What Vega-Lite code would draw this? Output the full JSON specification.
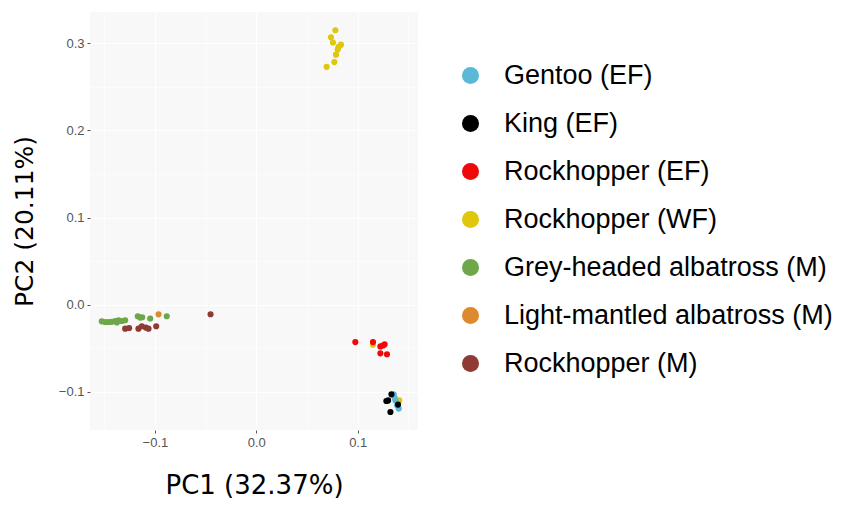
{
  "$schema": "https://vega.github.io/schema/vega-lite/v6.json",
  "width": 328,
  "height": 418,
  "autosize": {"type": "none"},
  "padding": {"left": 90, "top": 12, "right": 432, "bottom": 75},
  "background": "white",
  "config": {
    "view": {"fill": "#f8f8f8", "stroke": null},
    "axis": {
      "domain": false,
      "gridColor": "white",
      "gridWidth": 1,
      "tickColor": "#555555",
      "tickSize": 3,
      "labelColor": "#555555",
      "labelFont": "Liberation Sans",
      "labelFontSize": 13,
      "titleFont": "DejaVu Sans",
      "titleFontWeight": "normal",
      "titleColor": "black",
      "titleFontSize": 25
    },
    "legend": {
      "labelFont": "Liberation Sans",
      "labelFontSize": 27,
      "labelColor": "black",
      "labelLimit": 400
    }
  },
  "data": {
    "values": [
      {"pc1": 0.078, "pc2": 0.315, "group": "Rockhopper (WF)"},
      {"pc1": 0.0737, "pc2": 0.307, "group": "Rockhopper (WF)"},
      {"pc1": 0.0756, "pc2": 0.301, "group": "Rockhopper (WF)"},
      {"pc1": 0.0835, "pc2": 0.2985, "group": "Rockhopper (WF)"},
      {"pc1": 0.0812, "pc2": 0.296, "group": "Rockhopper (WF)"},
      {"pc1": 0.0803, "pc2": 0.293, "group": "Rockhopper (WF)"},
      {"pc1": 0.0786, "pc2": 0.287, "group": "Rockhopper (WF)"},
      {"pc1": 0.077, "pc2": 0.2785, "group": "Rockhopper (WF)"},
      {"pc1": 0.0694, "pc2": 0.273, "group": "Rockhopper (WF)"},
      {"pc1": 0.115, "pc2": -0.046, "group": "Rockhopper (WF)"},
      {"pc1": 0.141, "pc2": -0.11, "group": "Rockhopper (WF)"},
      {"pc1": 0.1355, "pc2": -0.103, "group": "Gentoo (EF)"},
      {"pc1": 0.1372, "pc2": -0.11, "group": "Gentoo (EF)"},
      {"pc1": 0.1388, "pc2": -0.1156, "group": "Gentoo (EF)"},
      {"pc1": 0.1405, "pc2": -0.1194, "group": "Gentoo (EF)"},
      {"pc1": 0.1365, "pc2": -0.107, "group": "Gentoo (EF)"},
      {"pc1": 0.1333, "pc2": -0.103, "group": "King (EF)"},
      {"pc1": 0.13, "pc2": -0.11, "group": "King (EF)"},
      {"pc1": 0.1283, "pc2": -0.1107, "group": "King (EF)"},
      {"pc1": 0.1398, "pc2": -0.1148, "group": "King (EF)"},
      {"pc1": 0.1323, "pc2": -0.1233, "group": "King (EF)"},
      {"pc1": 0.0977, "pc2": -0.043, "group": "Rockhopper (EF)"},
      {"pc1": 0.1151, "pc2": -0.043, "group": "Rockhopper (EF)"},
      {"pc1": 0.1224, "pc2": -0.048, "group": "Rockhopper (EF)"},
      {"pc1": 0.1266, "pc2": -0.0456, "group": "Rockhopper (EF)"},
      {"pc1": 0.125, "pc2": -0.047, "group": "Rockhopper (EF)"},
      {"pc1": 0.1224, "pc2": -0.056, "group": "Rockhopper (EF)"},
      {"pc1": 0.1289, "pc2": -0.057, "group": "Rockhopper (EF)"},
      {"pc1": -0.1524, "pc2": -0.0192, "group": "Grey-headed albatross (M)"},
      {"pc1": -0.149, "pc2": -0.02, "group": "Grey-headed albatross (M)"},
      {"pc1": -0.1457, "pc2": -0.02, "group": "Grey-headed albatross (M)"},
      {"pc1": -0.1425, "pc2": -0.0198, "group": "Grey-headed albatross (M)"},
      {"pc1": -0.1392, "pc2": -0.0188, "group": "Grey-headed albatross (M)"},
      {"pc1": -0.1359, "pc2": -0.018, "group": "Grey-headed albatross (M)"},
      {"pc1": -0.1375, "pc2": -0.0205, "group": "Grey-headed albatross (M)"},
      {"pc1": -0.1327, "pc2": -0.0188, "group": "Grey-headed albatross (M)"},
      {"pc1": -0.1293, "pc2": -0.018, "group": "Grey-headed albatross (M)"},
      {"pc1": -0.1169, "pc2": -0.0134, "group": "Grey-headed albatross (M)"},
      {"pc1": -0.1145, "pc2": -0.0149, "group": "Grey-headed albatross (M)"},
      {"pc1": -0.1125, "pc2": -0.0145, "group": "Grey-headed albatross (M)"},
      {"pc1": -0.1046, "pc2": -0.016, "group": "Grey-headed albatross (M)"},
      {"pc1": -0.0883, "pc2": -0.0134, "group": "Grey-headed albatross (M)"},
      {"pc1": -0.0964, "pc2": -0.0112, "group": "Light-mantled albatross (M)"},
      {"pc1": -0.1293, "pc2": -0.0276, "group": "Rockhopper (M)"},
      {"pc1": -0.1254, "pc2": -0.0269, "group": "Rockhopper (M)"},
      {"pc1": -0.1162, "pc2": -0.0276, "group": "Rockhopper (M)"},
      {"pc1": -0.1129, "pc2": -0.0249, "group": "Rockhopper (M)"},
      {"pc1": -0.109, "pc2": -0.0264, "group": "Rockhopper (M)"},
      {"pc1": -0.1063, "pc2": -0.0276, "group": "Rockhopper (M)"},
      {"pc1": -0.0987, "pc2": -0.0249, "group": "Rockhopper (M)"},
      {"pc1": -0.0451, "pc2": -0.0111, "group": "Rockhopper (M)"}
    ]
  },
  "mark": {"type": "circle", "size": 38, "opacity": 1},
  "encoding": {
    "x": {
      "field": "pc1",
      "type": "quantitative",
      "scale": {"domain": [-0.164, 0.1595], "nice": false, "zero": false},
      "axis": {
        "title": "PC1 (32.37%)",
        "titleFontSize": 26,
        "values": [-0.15, -0.1, -0.05, 0, 0.05, 0.1, 0.15],
        "labelExpr": "abs(datum.value*100 % 10) < 0.001 ? format(datum.value, '.1f') : ''",
        "tickOpacity": {"condition": {"test": "abs(datum.value*100 % 10) < 0.001", "value": 1}, "value": 0},
        "gridWidth": {"condition": {"test": "abs(datum.value*100 % 10) < 0.001", "value": 1.2}, "value": 0.6},
        "labelPadding": 3,
        "titlePadding": 23
      }
    },
    "y": {
      "field": "pc2",
      "type": "quantitative",
      "scale": {"domain": [-0.144, 0.336], "nice": false, "zero": false},
      "axis": {
        "title": "PC2 (20.11%)",
        "values": [-0.1, -0.05, 0, 0.05, 0.1, 0.15, 0.2, 0.25, 0.3],
        "labelExpr": "abs(datum.value*100 % 10) < 0.001 ? format(datum.value, '.1f') : ''",
        "tickOpacity": {"condition": {"test": "abs(datum.value*100 % 10) < 0.001", "value": 1}, "value": 0},
        "gridWidth": {"condition": {"test": "abs(datum.value*100 % 10) < 0.001", "value": 1.2}, "value": 0.6},
        "labelPadding": 3,
        "titlePadding": 21
      }
    },
    "color": {
      "field": "group",
      "type": "nominal",
      "scale": {
        "domain": ["Gentoo (EF)", "King (EF)", "Rockhopper (EF)", "Rockhopper (WF)", "Grey-headed albatross (M)", "Light-mantled albatross (M)", "Rockhopper (M)"],
        "range": ["#5ab9d7", "#000000", "#ee0a0a", "#e0c60c", "#6ea64a", "#dd8a2e", "#8e3b34"]
      },
      "legend": {
        "title": null,
        "orient": "none",
        "legendX": 367,
        "legendY": 50,
        "symbolType": "circle",
        "symbolSize": 290,
        "symbolStrokeWidth": 0,
        "rowPadding": 20,
        "labelOffset": 20,
        "padding": 0
      }
    }
  }
}
